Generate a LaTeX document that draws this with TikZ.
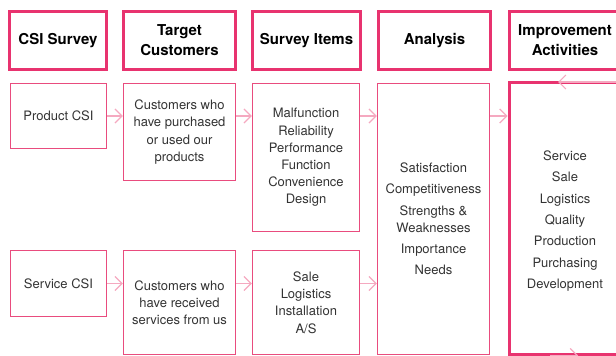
\documentclass[tikz,border=0pt]{standalone}
\usepackage{fontspec}
\setmainfont{TeX Gyre Heros}
\usetikzlibrary{arrows.meta}
\definecolor{pinkA}{HTML}{E8336F}
\definecolor{pinkB}{HTML}{E94C7E}
\definecolor{pinkL}{HTML}{F5A9C0}
\definecolor{txt}{HTML}{333333}
\tikzset{
  hdr/.style={draw=pinkA, line width=3pt, inner sep=0pt, align=center, text=black,
    font=\fontsize{15}{20}\selectfont\bfseries, minimum height=58pt},
  cell/.style={draw=pinkB, line width=1.4pt, inner sep=0pt, align=center, text=txt,
    font=\fontsize{13}{17.2}\selectfont},
  bigcell/.style={cell, draw=pinkA, line width=3pt},
  flow/.style={draw=pinkL, line width=1.2pt, -{Straight Barb[length=7pt,width=14pt,line width=1.2pt]}}
}
\begin{document}
\begin{tikzpicture}[x=1pt,y=-1pt]
\useasboundingbox (0,0) rectangle (616,356);
\clip (0,0) rectangle (616,356);
% headers
\node[hdr, minimum width=97pt] (h1) at (58,40.5) {CSI Survey};
\node[hdr, minimum width=112pt] (h2) at (179.5,40.5) {Target\\Customers};
\node[hdr, minimum width=108pt] (h3) at (306.5,40.5) {Survey Items};
\node[hdr, minimum width=112pt] (h4) at (434.5,40.5) {Analysis};
\node[hdr, minimum width=112pt] (h5) at (565,40.5) {Improvement\\Activities};
% row 1
\node[cell, minimum width=96pt, minimum height=65pt] (p1) at (58.5,116) {Product CSI};
\node[cell, minimum width=112pt, minimum height=97pt] (c1) at (179.5,132) {Customers who\\have purchased\\or used our\\products};
\node[cell, minimum width=107pt, minimum height=148pt] (s1) at (306,157.5) {Malfunction\\Reliability\\Performance\\Function\\Convenience\\Design};
\node[cell, minimum width=112pt, minimum height=271pt] (an) at (433.5,219) {Satisfaction\\[4pt]Competitiveness\\[4pt]Strengths \&\\Weaknesses\\[4pt]Importance\\[4pt]Needs};
\node[bigcell, minimum width=112pt, minimum height=272pt] (im) at (565,218.5) {};
\node[cell, draw=none, font=\fontsize{13}{21.3}\selectfont] (imt) at (565,221) {Service\\Sale\\Logistics\\Quality\\Production\\Purchasing\\Development};
% row 2
\node[cell, minimum width=96pt, minimum height=66pt] (p2) at (58.5,283.5) {Service CSI};
\node[cell, minimum width=112pt, minimum height=104pt] (c2) at (179.5,302.5) {Customers who\\have received\\services from us};
\node[cell, minimum width=107pt, minimum height=104pt] (s2) at (306,302.5) {Sale\\Logistics\\Installation\\A/S};
% arrows row 1
\draw[flow] (p1.east) -- (c1.west |- p1.east);
\draw[flow] (c1.east |- p1.east) -- (s1.west |- p1.east);
\draw[flow] (s1.east |- p1.east) -- (an.west |- p1.east);
\draw[flow] (an.east |- p1.east) -- (im.west |- p1.east);
% arrows row 2
\draw[flow] (p2.east) -- (c2.west |- p2.east);
\draw[flow] (c2.east |- p2.east) -- (s2.west |- p2.east);
\draw[flow] (s2.east |- p2.east) -- (an.west |- p2.east);
% loop fragments
\coordinate (lt0) at (616,82);
\coordinate (lt1) at (558,82);
\coordinate (lb0) at (550,355.5);
\coordinate (lb1) at (578,355.5);
\draw[flow] (lt0) -- (lt1);
\draw[flow] (lb0) -- (lb1);
\end{tikzpicture}
\end{document}
